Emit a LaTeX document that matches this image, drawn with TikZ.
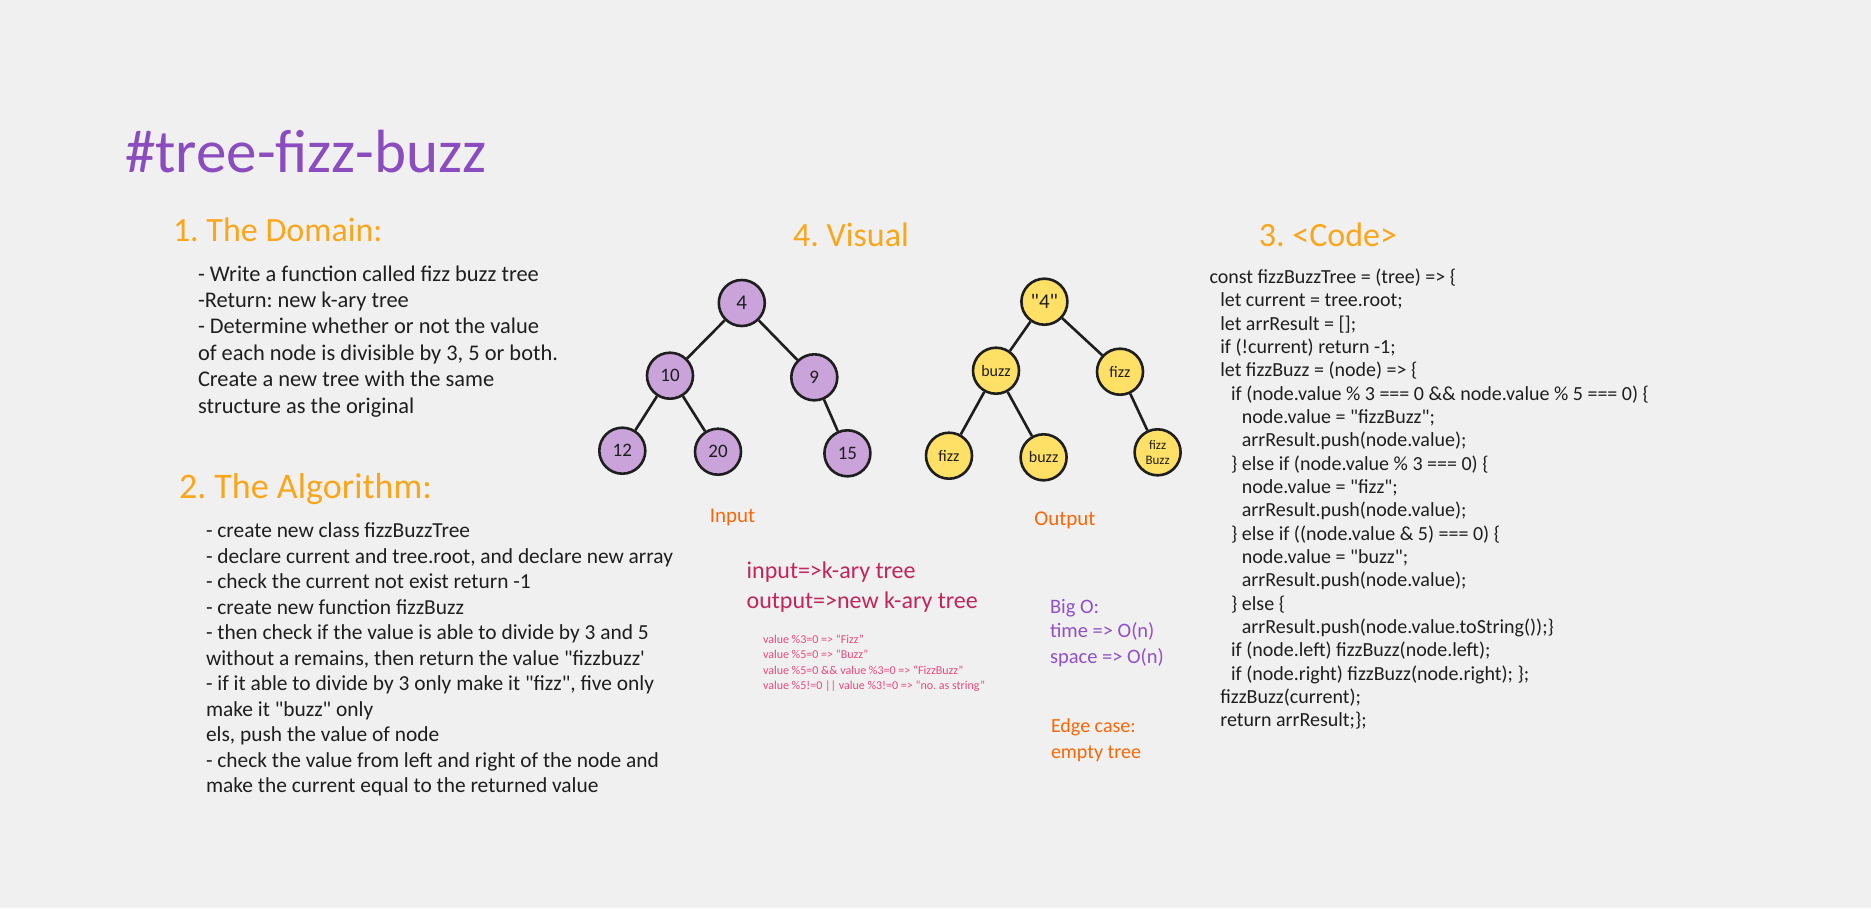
\documentclass[tikz,border=0pt]{standalone}
\usepackage{fontspec}
\setmainfont{Carlito}
\newfontfamily\hand{Carlito}
\frenchspacing
\definecolor{bg}{HTML}{F0F0F0}
\definecolor{titlepurple}{HTML}{8A4CBE}
\definecolor{headorange}{HTML}{FAA61A}
\definecolor{labelorange}{HTML}{F76707}
\definecolor{crimson}{HTML}{C2255C}
\definecolor{pinktxt}{HTML}{E64980}
\definecolor{bigopurple}{HTML}{9150C6}
\definecolor{inkdark}{HTML}{1E1E1E}
\definecolor{purplefill}{HTML}{C9A3D9}
\definecolor{yellowfill}{HTML}{FFE066}
\tikzset{
  txt/.style={anchor=base west, inner sep=0pt, outer sep=0pt},
  heading/.style={txt, text=headorange, font=\hand\frenchspacing\fontsize{34}{40}\selectfont},
  body/.style={txt, text=inkdark},
  codetxt/.style={txt, text=inkdark, font=\hand\frenchspacing\fontsize{20}{24}\selectfont},
  treenode/.style={circle, draw=inkdark, line width=2.6pt, minimum size=46pt, inner sep=0pt, text=inkdark, align=center},
  innode/.style={treenode, fill=purplefill, font=\hand\fontsize{19}{20}\selectfont},
  outnode/.style={treenode, fill=yellowfill, font=\hand\fontsize{16}{16}\selectfont},
  edge/.style={draw=inkdark, line width=2.6pt},
  caption/.style={anchor=base, inner sep=0pt, text=labelorange, font=\hand\fontsize{21}{24}\selectfont}
}
\begin{document}
\frenchspacing
\begin{tikzpicture}[x=1pt,y=-1pt]
\fill[bg] (0,0) rectangle (1871,908);
\useasboundingbox (0,0) rectangle (1871,908);

% title
\node[txt, text=titlepurple, font=\hand\fontsize{61}{66}\selectfont] (title) at (125,172) {\#tree-fizz-buzz};

% headings
\node[heading] (h1) at (173,241.5) {1. The Domain:};
\node[heading, font=\hand\frenchspacing\fontsize{36}{40}\selectfont] (h2) at (179,498) {2. The Algorithm:};
\node[heading, anchor=base] (h4) at (851,246) {4. Visual};
\node[heading, anchor=base] (h3) at (1328,246) {3. <Code>};

% domain text
\foreach \t [count=\i] in {
  {- Write a function called fizz buzz tree},
  {-Return: new k-ary tree},
  {- Determine whether or not the value},
  {of each node is divisible by 3, 5 or both.},
  {Create a new tree with the same},
  {structure as the original}}
  \node[body, font=\hand\frenchspacing\fontsize{22.4}{26}\selectfont] (dom\i) at (198, 281 + 26.4*\i - 26.4) {\t};

% algorithm text
\foreach \t [count=\i] in {
  {- create new class fizzBuzzTree},
  {- declare current and tree.root, and declare new array},
  {- check the current not exist return -1},
  {- create new function fizzBuzz},
  {- then check if the value is able to divide by 3 and 5},
  {without a remains, then return the value "fizzbuzz'},
  {- if it able to divide by 3 only make it "fizz", five only},
  {make it "buzz" only},
  {els, push the value of node},
  {- check the value from left and right of the node and},
  {make the current equal to the returned value}}
  \node[body, font=\hand\frenchspacing\fontsize{21.4}{26}\selectfont] (alg\i) at (206, 537.5 + 25.5*\i - 25.5) {\t};

% code
\foreach \lv/\t [count=\i] in {
  0/{const fizzBuzzTree = (tree) => \{},
  1/{let current = tree.root;},
  1/{let arrResult = [];},
  1/{if (!current) return -1;},
  1/{let fizzBuzz = (node) => \{},
  2/{if (node.value \% 3 === 0 \&\& node.value \% 5 === 0) \{},
  3/{node.value = "fizzBuzz";},
  3/{arrResult.push(node.value);},
  2/{\} else if (node.value \% 3 === 0) \{},
  3/{node.value = "fizz";},
  3/{arrResult.push(node.value);},
  2/{\} else if ((node.value \& 5) === 0) \{},
  3/{node.value = "buzz";},
  3/{arrResult.push(node.value);},
  2/{\} else \{},
  3/{arrResult.push(node.value.toString());\}},
  2/{if (node.left) fizzBuzz(node.left);},
  2/{if (node.right) fizzBuzz(node.right); \};},
  1/{fizzBuzz(current);},
  1/{return arrResult;\};}}
  \node[codetxt] (code\i) at (1209.5 + 10.8*\lv, 283.5 + 23.33*\i - 23.33) {\t};

% input tree
\node[innode, font=\hand\fontsize{21}{22}\selectfont] (i4) at (741.8,303) {4};
\node[innode] (i10) at (670,375.7) {10};
\node[innode] (i9) at (814.3,377.3) {9};
\node[innode] (i12) at (622.3,450.7) {12};
\node[innode] (i20) at (718,451.7) {20};
\node[innode] (i15) at (847.4,453.3) {15};
\draw[edge] (i4) -- (i10);
\draw[edge] (i4) -- (i9);
\draw[edge] (i10) -- (i12);
\draw[edge] (i10) -- (i20);
\draw[edge] (i9) -- (i15);

% output tree
\node[outnode, font=\hand\fontsize{21}{22}\selectfont] (o4) at (1044.4,301.7) {"4"};
\node[outnode] (obuzz) at (996,370.7) {buzz};
\node[outnode] (ofizz) at (1120,371.7) {fizz};
\node[outnode] (ofizzl) at (949,455.7) {fizz};
\node[outnode] (obuzzl) at (1043.6,457.3) {buzz};
\node[outnode, font=\hand\fontsize{13}{15}\selectfont] (ofb) at (1157.6,452.3) {fizz\\Buzz};
\draw[edge] (o4) -- (obuzz);
\draw[edge] (o4) -- (ofizz);
\draw[edge] (obuzz) -- (ofizzl);
\draw[edge] (obuzz) -- (obuzzl);
\draw[edge] (ofizz) -- (ofb);

\node[caption] (inlbl) at (732.5,522) {Input};
\node[caption] (outlbl) at (1065,525) {Output};

% input / output description
\node[txt, text=crimson, font=\hand\fontsize{24}{26}\selectfont] (io1) at (746.7,578.7) {input=>k-ary tree};
\node[txt, text=crimson, font=\hand\fontsize{24}{26}\selectfont] (io2) at (746.7,608) {output=>new k-ary tree};

\foreach \t [count=\i] in {
  {value \%3=0 => “Fizz”},
  {value \%5=0 => “Buzz”},
  {value \%5=0 \&\& value \%3=0 => “FizzBuzz”},
  {value \%5!=0 || value \%3!=0 => “no. as string”}}
  \node[txt, text=pinktxt, font=\hand\frenchspacing\fontsize{12}{14}\selectfont] (rule\i) at (763, 643.6 + 15.2*\i - 15.2) {\t};

% Big O
\node[txt, text=bigopurple, font=\hand\fontsize{20.5}{24}\selectfont] (bo1) at (1050,613) {Big O:};
\node[txt, text=bigopurple, font=\hand\fontsize{20.5}{24}\selectfont] (bo2) at (1050,637.7) {time => O(n)};
\node[txt, text=bigopurple, font=\hand\fontsize{20.5}{24}\selectfont] (bo3) at (1050,663) {space => O(n)};

% edge case
\node[txt, text=labelorange, font=\hand\fontsize{20}{24}\selectfont] (ec1) at (1051,732) {Edge case:};
\node[txt, text=labelorange, font=\hand\fontsize{20}{24}\selectfont] (ec2) at (1051,758.7) {empty tree};
\end{tikzpicture}
\end{document}
